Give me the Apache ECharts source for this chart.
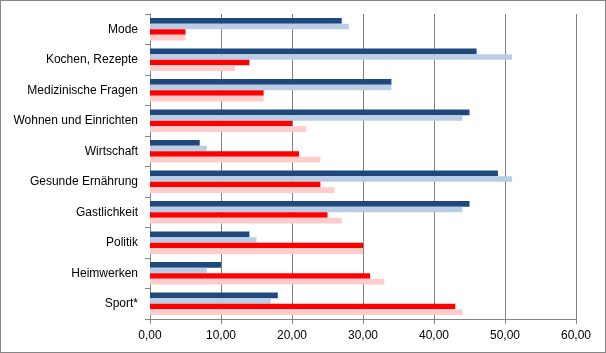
<!DOCTYPE html>
<html><head><meta charset="utf-8">
<script src="https://cdn.jsdelivr.net/npm/echarts@6/dist/echarts.min.js"></script>
<style>html,body{margin:0;padding:0;background:#fff}#c{width:604px;height:351px;border:1px solid #868686}</style>
</head><body><div id="c"></div>
<script>
const categories = ["Mode","Kochen, Rezepte","Medizinische Fragen","Wohnen und Einrichten","Wirtschaft","Gesunde Ernährung","Gastlichkeit","Politik","Heimwerken","Sport*"];
const seriesDark  = [27, 46, 34, 45, 7, 49, 45, 14, 10, 18];
const seriesLight = [28, 51, 34, 44, 8, 51, 44, 15, 8, 17];
const seriesRed   = [5, 14, 16, 20, 21, 24, 25, 30, 31, 43];
const seriesPink  = [5, 12, 16, 22, 24, 26, 27, 30, 33, 44];
const xTicks = [0, 10, 20, 30, 40, 50, 60];

const chart = echarts.init(document.getElementById('c'), null, {renderer:'canvas'});
const font = 'Liberation Sans';
function mk(name, data, color){
  return {name, type:'bar', data, itemStyle:{color}, barGap:'0%', barCategoryGap:'27%', animation:false};
}
chart.setOption({
  animation:false,
  textStyle:{fontFamily:font},
  grid:{left:149, right:29, top:13, bottom:33, containLabel:false},
  xAxis:{type:'value', min:xTicks[0], max:xTicks[xTicks.length-1], interval:10,
    axisLine:{show:true, lineStyle:{color:'#868686'}},
    axisTick:{show:true, length:5, lineStyle:{color:'#868686'}},
    axisLabel:{color:'#000', fontSize:12, fontFamily:font, margin:11,
      formatter:v=>v.toFixed(2).replace('.',',')},
    splitLine:{show:true, lineStyle:{color:'#808080', width:1}}},
  yAxis:{type:'category', data:categories, inverse:true,
    axisLine:{show:true, lineStyle:{color:'#868686'}},
    axisTick:{show:true, length:5, lineStyle:{color:'#868686'}},
    axisLabel:{color:'#000', fontSize:12, fontFamily:font, margin:12}},
  series:[
    mk('A', seriesDark, '#1F497D'),
    mk('B', seriesLight, '#B9CDE5'),
    mk('C', seriesRed, '#FF0000'),
    mk('D', seriesPink, '#FFCCCC')
  ]
});
</script></body></html>
